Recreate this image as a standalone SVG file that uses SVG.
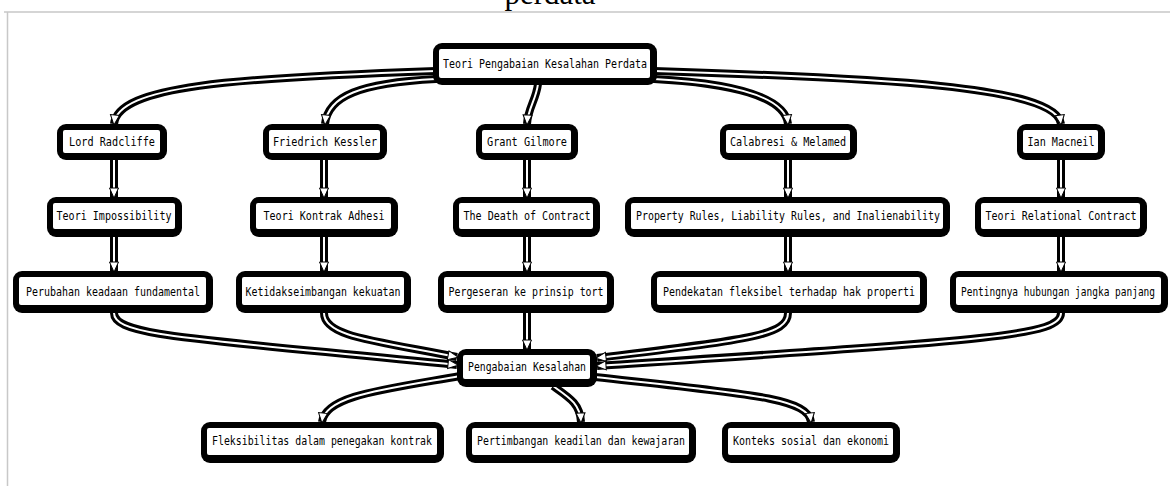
<svg xmlns="http://www.w3.org/2000/svg" width="1170" height="486" viewBox="0 0 1170 486">
  <style>
    .frame { stroke: #c8c8c8; stroke-width: 1.5; fill: none; }
    .caption { font-family: "Liberation Serif", serif; font-size: 31px; fill: #000; }
    .box-outer { fill: #000; }
    .box-inner { fill: #fff; }
    .label { font-family: "DejaVu Sans Mono", "Liberation Mono", monospace; font-size: 11.5px; fill: #000; text-anchor: middle; dominant-baseline: central; }
    .edge-band { fill: none; stroke: #000; stroke-width: 8; stroke-linecap: butt; }
    .edge-core { fill: none; stroke: #fff; stroke-width: 2; marker-end: url(#head); }
  </style>
  <defs>
    <marker id="head" markerUnits="userSpaceOnUse" markerWidth="12" markerHeight="12" viewBox="-6 -6 12 12" refX="4" refY="0" orient="auto">
      <path d="M-5,-4.5 L5,0 L-5,4.5 Z" fill="#fff" stroke="#000" stroke-width="1"/>
    </marker>
  </defs>

  <rect width="1170" height="486" fill="#fff"/>
  <!-- page frame and clipped caption -->
  <path class="frame" d="M4,12 H1170 M7.5,12 V486"/>
  <text class="caption" x="550" y="4" text-anchor="middle">perdata</text>

  <!-- connectors -->
  <g id="connectors">
    <!-- root to authors -->
    <path class="edge-band" d="M436,71 C230,78 118,86 114,124"/>
    <path class="edge-core" d="M436,71 C230,78 118,86 114,124"/>
    <path class="edge-band" d="M436,79 C360,83 328,96 325,124"/>
    <path class="edge-core" d="M436,79 C360,83 328,96 325,124"/>
    <path class="edge-band" d="M538,84 C536,100 528,108 527,124"/>
    <path class="edge-core" d="M538,84 C536,100 528,108 527,124"/>
    <path class="edge-band" d="M654,79 C730,83 785,96 788,124"/>
    <path class="edge-core" d="M654,79 C730,83 785,96 788,124"/>
    <path class="edge-band" d="M654,71 C880,78 1056,86 1061,124"/>
    <path class="edge-core" d="M654,71 C880,78 1056,86 1061,124"/>

    <!-- authors to theories -->
    <path class="edge-band" d="M114,160 V197"/>
    <path class="edge-core" d="M114,160 V197"/>
    <path class="edge-band" d="M324,160 V197"/>
    <path class="edge-core" d="M324,160 V197"/>
    <path class="edge-band" d="M527,160 V197"/>
    <path class="edge-core" d="M527,160 V197"/>
    <path class="edge-band" d="M788,160 V197"/>
    <path class="edge-core" d="M788,160 V197"/>
    <path class="edge-band" d="M1061,160 V197"/>
    <path class="edge-core" d="M1061,160 V197"/>

    <!-- theories to consequences -->
    <path class="edge-band" d="M114,237 V271"/>
    <path class="edge-core" d="M114,237 V271"/>
    <path class="edge-band" d="M324,237 V271"/>
    <path class="edge-core" d="M324,237 V271"/>
    <path class="edge-band" d="M527,237 V271"/>
    <path class="edge-core" d="M527,237 V271"/>
    <path class="edge-band" d="M788,237 V271"/>
    <path class="edge-core" d="M788,237 V271"/>
    <path class="edge-band" d="M1061,237 V271"/>
    <path class="edge-core" d="M1061,237 V271"/>

    <!-- consequences to Pengabaian Kesalahan -->
    <path class="edge-band" d="M114,313 C114,336 190,338 457,365"/>
    <path class="edge-core" d="M114,313 C114,336 190,338 457,365"/>
    <path class="edge-band" d="M324,313 C324,336 370,340 457,357"/>
    <path class="edge-core" d="M324,313 C324,336 370,340 457,357"/>
    <path class="edge-band" d="M527,313 V349"/>
    <path class="edge-core" d="M527,313 V349"/>
    <path class="edge-band" d="M788,313 C788,336 745,340 597,358"/>
    <path class="edge-core" d="M788,313 C788,336 745,340 597,358"/>
    <path class="edge-band" d="M1061,313 C1061,336 990,340 597,366"/>
    <path class="edge-core" d="M1061,313 C1061,336 990,340 597,366"/>

    <!-- Pengabaian Kesalahan to effects -->
    <path class="edge-band" d="M460,376 C380,390 325,396 322,422"/>
    <path class="edge-core" d="M460,376 C380,390 325,396 322,422"/>
    <path class="edge-band" d="M553,386 C570,398 580,404 581,422"/>
    <path class="edge-core" d="M553,386 C570,398 580,404 581,422"/>
    <path class="edge-band" d="M595,377 C750,394 808,398 811,422"/>
    <path class="edge-core" d="M595,377 C750,394 808,398 811,422"/>
  </g>

  <!-- nodes -->
  <g id="root">
    <rect class="box-outer" x="433" y="43" width="224" height="42" rx="9"/>
    <rect class="box-inner" x="439" y="49" width="211" height="29" rx="2"/>
    <text class="label" x="545" y="64" textLength="204" lengthAdjust="spacingAndGlyphs">Teori Pengabaian Kesalahan Perdata</text>
  </g>

  <g id="lord-radcliffe">
    <rect class="box-outer" x="57" y="124" width="110" height="36" rx="9"/>
    <rect class="box-inner" x="63" y="130" width="97" height="23" rx="2"/>
    <text class="label" x="112" y="142" textLength="86" lengthAdjust="spacingAndGlyphs">Lord Radcliffe</text>
  </g>
  <g id="friedrich-kessler">
    <rect class="box-outer" x="263" y="124" width="124" height="36" rx="9"/>
    <rect class="box-inner" x="269" y="130" width="111" height="23" rx="2"/>
    <text class="label" x="325" y="142" textLength="104" lengthAdjust="spacingAndGlyphs">Friedrich Kessler</text>
  </g>
  <g id="grant-gilmore">
    <rect class="box-outer" x="476" y="124" width="102" height="36" rx="9"/>
    <rect class="box-inner" x="482" y="130" width="89" height="23" rx="2"/>
    <text class="label" x="527" y="142" textLength="80" lengthAdjust="spacingAndGlyphs">Grant Gilmore</text>
  </g>
  <g id="calabresi-melamed">
    <rect class="box-outer" x="720" y="124" width="137" height="36" rx="9"/>
    <rect class="box-inner" x="726" y="130" width="124" height="23" rx="2"/>
    <text class="label" x="788" y="142" textLength="116" lengthAdjust="spacingAndGlyphs">Calabresi &amp; Melamed</text>
  </g>
  <g id="ian-macneil">
    <rect class="box-outer" x="1017" y="124" width="88" height="36" rx="9"/>
    <rect class="box-inner" x="1023" y="130" width="75" height="23" rx="2"/>
    <text class="label" x="1061" y="142" textLength="67" lengthAdjust="spacingAndGlyphs">Ian Macneil</text>
  </g>

  <g id="teori-impossibility">
    <rect class="box-outer" x="47" y="197" width="135" height="40" rx="9"/>
    <rect class="box-inner" x="53" y="203" width="122" height="26" rx="2"/>
    <text class="label" x="114" y="216" textLength="115" lengthAdjust="spacingAndGlyphs">Teori Impossibility</text>
  </g>
  <g id="teori-kontrak-adhesi">
    <rect class="box-outer" x="250" y="197" width="148" height="40" rx="9"/>
    <rect class="box-inner" x="256" y="203" width="135" height="26" rx="2"/>
    <text class="label" x="324" y="216" textLength="121" lengthAdjust="spacingAndGlyphs">Teori Kontrak Adhesi</text>
  </g>
  <g id="death-of-contract">
    <rect class="box-outer" x="453" y="197" width="147" height="40" rx="9"/>
    <rect class="box-inner" x="459" y="203" width="134" height="26" rx="2"/>
    <text class="label" x="527" y="216" textLength="127" lengthAdjust="spacingAndGlyphs">The Death of Contract</text>
  </g>
  <g id="property-rules">
    <rect class="box-outer" x="625" y="197" width="325" height="40" rx="9"/>
    <rect class="box-inner" x="631" y="203" width="312" height="26" rx="2"/>
    <text class="label" x="788" y="216" textLength="304" lengthAdjust="spacingAndGlyphs">Property Rules, Liability Rules, and Inalienability</text>
  </g>
  <g id="relational-contract">
    <rect class="box-outer" x="975" y="197" width="172" height="40" rx="9"/>
    <rect class="box-inner" x="981" y="203" width="159" height="26" rx="2"/>
    <text class="label" x="1061" y="216" textLength="151" lengthAdjust="spacingAndGlyphs">Teori Relational Contract</text>
  </g>

  <g id="perubahan-keadaan">
    <rect class="box-outer" x="13" y="271" width="200" height="42" rx="9"/>
    <rect class="box-inner" x="19" y="277" width="187" height="28" rx="2"/>
    <text class="label" x="113" y="292" textLength="174" lengthAdjust="spacingAndGlyphs">Perubahan keadaan fundamental</text>
  </g>
  <g id="ketidakseimbangan">
    <rect class="box-outer" x="236" y="271" width="175" height="42" rx="9"/>
    <rect class="box-inner" x="242" y="277" width="162" height="28" rx="2"/>
    <text class="label" x="323" y="292" textLength="155" lengthAdjust="spacingAndGlyphs">Ketidakseimbangan kekuatan</text>
  </g>
  <g id="pergeseran-tort">
    <rect class="box-outer" x="438" y="271" width="176" height="42" rx="9"/>
    <rect class="box-inner" x="444" y="277" width="163" height="28" rx="2"/>
    <text class="label" x="526" y="292" textLength="155" lengthAdjust="spacingAndGlyphs">Pergeseran ke prinsip tort</text>
  </g>
  <g id="pendekatan-fleksibel">
    <rect class="box-outer" x="651" y="271" width="276" height="42" rx="9"/>
    <rect class="box-inner" x="657" y="277" width="263" height="28" rx="2"/>
    <text class="label" x="789" y="292" textLength="252" lengthAdjust="spacingAndGlyphs">Pendekatan fleksibel terhadap hak properti</text>
  </g>
  <g id="hubungan-jangka-panjang">
    <rect class="box-outer" x="950" y="271" width="218" height="42" rx="9"/>
    <rect class="box-inner" x="956" y="277" width="205" height="28" rx="2"/>
    <text class="label" x="1058" y="292" textLength="194" lengthAdjust="spacingAndGlyphs">Pentingnya hubungan jangka panjang</text>
  </g>

  <g id="pengabaian-kesalahan">
    <rect class="box-outer" x="457" y="349" width="140" height="38" rx="9"/>
    <rect class="box-inner" x="463" y="355" width="127" height="24" rx="2"/>
    <text class="label" x="527" y="367" textLength="118" lengthAdjust="spacingAndGlyphs">Pengabaian Kesalahan</text>
  </g>

  <g id="fleksibilitas">
    <rect class="box-outer" x="201" y="422" width="243" height="41" rx="9"/>
    <rect class="box-inner" x="207" y="428" width="230" height="27" rx="2"/>
    <text class="label" x="322" y="441" textLength="220" lengthAdjust="spacingAndGlyphs">Fleksibilitas dalam penegakan kontrak</text>
  </g>
  <g id="keadilan-kewajaran">
    <rect class="box-outer" x="466" y="422" width="230" height="41" rx="9"/>
    <rect class="box-inner" x="472" y="428" width="217" height="27" rx="2"/>
    <text class="label" x="581" y="441" textLength="208" lengthAdjust="spacingAndGlyphs">Pertimbangan keadilan dan kewajaran</text>
  </g>
  <g id="konteks-sosial">
    <rect class="box-outer" x="722" y="422" width="178" height="41" rx="9"/>
    <rect class="box-inner" x="728" y="428" width="165" height="27" rx="2"/>
    <text class="label" x="811" y="441" textLength="156" lengthAdjust="spacingAndGlyphs">Konteks sosial dan ekonomi</text>
  </g>
</svg>
